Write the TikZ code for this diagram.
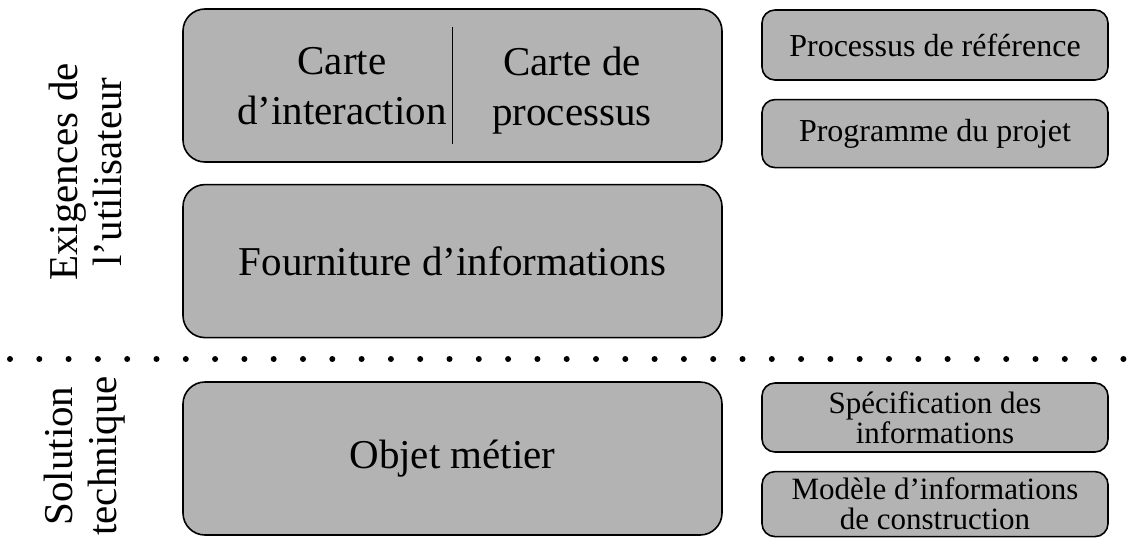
\documentclass[tikz,border=0pt]{standalone}
\usepackage{fontspec}
\setmainfont{Liberation Serif}
\usetikzlibrary{positioning}

\definecolor{boxgray}{RGB}{179,179,179}

\begin{document}
\begin{tikzpicture}[x=1pt, y=-1pt, node distance=21pt,
    bigbox/.style={draw, line width=1.6pt, fill=boxgray, rounded corners=22pt,
      minimum width=539pt, minimum height=153pt, align=center,
      font=\fontsize{41}{50}\selectfont},
    smallbox/.style={draw, line width=1.6pt, fill=boxgray, rounded corners=13pt,
      minimum width=346pt, inner sep=0pt, align=center,
      font=\fontsize{31}{30}\selectfont},
    bigtext/.style={align=center, inner sep=0pt, anchor=north,
      font=\fontsize{41}{50}\selectfont},
    sidelabel/.style={rotate=90, align=center, font=\fontsize{41}{44}\selectfont}]
\useasboundingbox (0,0) rectangle (1129,538);

% user requirements
\node [bigbox] (carte) at (452.5,85.5) {};
\node [bigtext] (interaction) at (342,47) {Carte\\d’interaction};
\node [bigtext] (processus) at (572,47) {Carte de\\processus};
\draw [line width=1.2pt] ([yshift=-19pt]carte.north) -- ([yshift=19pt]carte.south);
\node [bigbox, below=of carte] (fourniture) {Fourniture d’informations};

\node [smallbox, minimum height=70pt, font=\fontsize{32}{30}\selectfont] (reference) at (935,45) {Processus de référence};
\node [smallbox, minimum height=68pt, font=\fontsize{32}{30}\selectfont, below=18pt of reference] (programme) {Programme du projet};

% separator
\foreach \i in {0,...,38}
  \fill (10+\i*29.3,359) circle (3pt);

% technical solution
\node [bigbox] (objet) at (452.5,458.5) {Objet métier};
\node [smallbox, minimum height=69pt] (specification) at (935,417.5) {Spécification des\\informations};
\node [smallbox, minimum height=65pt, below=18pt of specification] (modele) {Modèle d’informations\\de construction};

\node [sidelabel] (exigences) at (85,172) {Exigences de\\l’utilisateur};
\node [sidelabel] (solution) at (85,456) {Solution\\technique};
\end{tikzpicture}
\end{document}
